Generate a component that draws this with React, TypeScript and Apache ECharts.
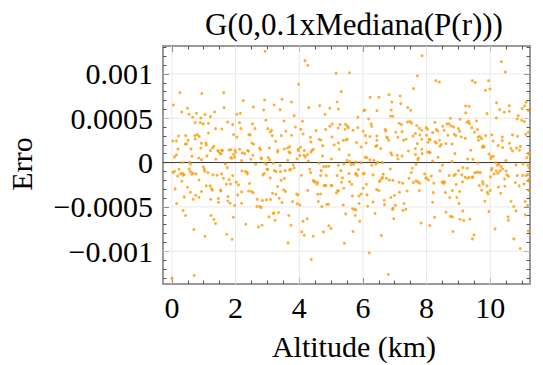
import React, { useEffect, useRef } from "react";
import * as echarts from "echarts";

// Altitude (km), Erro in units of 1e-4
const band0to2: number[][] = [
  [0.25,7.89],[0.94,7.78],[1.63,7.89],[0.05,6.5],[2.24,6.99],[0.49,6.12],[0.31,5.71],[1.64,6.2],[1.34,5.71],[0.54,5.45],
  [0.77,5.56],[1.04,5.41],[0.65,5.11],[0.91,5.03],[1.21,5.18],[2.04,5.45],[2.15,5.56],[0.73,4.51],[0.89,4.51],[0.98,4.36],
  [1.15,4.43],[1.75,4.58],[1.91,4.28],[2.12,4.51],[2.17,3.83],[1.57,3.79],[1.37,3.83],[1.15,3.34],[0.21,3.0],[0.43,3.04],
  [0.72,3.04],[0.8,3.15],[0.86,2.93],[1.94,3.15],[2.04,2.89],[2.42,3.15],[0.03,2.44],[0.14,2.44],[0.51,2.51],[0.73,2.66],
  [1.07,2.21],[1.08,1.99],[0.93,2.18],[0.42,2.1],[0.46,2.1],[1.32,1.84],[1.28,1.65],[0.19,1.54],[0.6,1.54],[1.44,1.35],
  [1.46,1.24],[1.56,1.39],[1.59,1.35],[1.79,1.42],[1.85,1.46],[1.98,1.39],[2.13,1.5],[2.38,1.35],[2.41,1.27],[0.91,1.65],
  [1.21,1.35],[2.0,1.16],[2.21,1.09],[2.29,1.01],[0.14,0.86],[0.08,0.64],[0.63,0.71],[1.1,0.75],[1.51,1.05],[1.54,0.97],
  [1.94,0.9],[1.97,0.6],[1.85,0.56],[0.84,0.52],
  [0.33,0.0],[0.55,0.03],[0.58,-0.15],[0.93,0.33],[1.38,0.37],[1.68,-0.15],[1.74,-0.57],[1.88,0.48],[2.19,0.22],
  [0.03,-1.13],[0.08,-0.98],[0.22,-0.76],[0.18,-1.51],[0.27,-1.28],[0.33,-1.21],[0.36,-1.43],[0.38,-1.36],[0.31,-2.11],[0.54,-0.72],
  [0.62,-1.32],[0.67,-1.21],[0.76,-1.28],[0.58,-1.02],[0.99,-0.49],[1.02,-0.76],[1.03,-0.98],[1.13,-1.13],[1.29,-1.39],[1.42,-1.43],
  [1.56,-1.28],[1.62,-1.77],[1.71,-2.45],[1.8,-1.92],[1.84,-2.41],[1.91,-1.47],[2.02,-2.22],[2.09,-2.52],[2.2,-0.94],[2.31,-1.02],
  [2.37,-1.28],[2.36,-1.09],[0.85,-1.96],[0.49,-2.78],[0.1,-2.97],[0.58,-3.35],[1.08,-2.63],[1.2,-2.63],[1.25,-2.97],[1.27,-3.12],
  [0.93,-3.27],[1.53,-3.09],[1.54,-3.2],[0.75,-3.69],[0.39,-3.87],[0.67,-4.14],[0.85,-3.91],[1.22,-4.14],[1.46,-4.06],[1.46,-4.48],
  [1.76,-3.84],[1.76,-4.33],[1.83,-4.59],[2.07,-3.65],[1.97,-4.85],[2.19,-3.31],[2.41,-3.2],[2.19,-4.59],[0.15,-4.63],[0.35,-5.41],
  [0.43,-5.98],[1.23,-5.98],[1.32,-6.43],[1.37,-6.88],[1.93,-6.17],[2.32,-6.96],[0.69,-7.56],[1.04,-8.31],[1.72,-8.08],[1.89,-8.65],
  [0.0,-13.04],[0.7,-12.74]
];

const band2to5: number[][] = [
  [2.93,12.55],[4.18,11.5],[4.27,10.97],[5.16,10.07],[3.98,8.83],[2.91,7.06],[3.21,6.5],[3.46,7.14],[3.76,6.84],[2.56,6.27],
  [2.88,5.93],[3.4,5.97],[4.3,6.2],[4.64,6.42],[4.81,5.45],[4.96,6.12],[5.19,6.84],[5.23,6.05],[3.84,5.29],[2.95,4.77],
  [3.52,4.69],[4.1,4.66],[2.53,4.36],[2.61,3.83],[3.01,3.83],[3.13,3.64],[3.09,3.45],[3.58,3.53],[3.88,4.02],[4.05,3.75],
  [4.53,3.6],[4.83,3.72],[4.96,4.1],[5.04,4.36],[5.22,3.9],[2.46,3.12],[3.15,3.04],[3.44,3.04],[3.76,3.08],[4.12,3.23],
  [4.35,2.85],[5.03,2.89],[3.26,2.4],[4.37,2.33],[4.62,2.63],[4.68,2.55],[5.1,1.99],[5.23,2.21],[2.51,2.21],[2.57,2.06],
  [2.75,1.65],[2.78,1.46],[3.06,1.65],[3.33,1.35],[3.32,1.2],[3.53,1.54],[3.64,1.65],[3.7,1.8],[3.68,1.2],[3.71,1.09],
  [3.97,1.5],[4.04,1.73],[3.97,1.35],[4.16,1.35],[4.15,0.82],[4.37,1.2],[4.4,1.39],[4.44,1.5],[4.74,1.91],[5.26,1.5],
  [2.54,0.82],[2.81,0.52],[3.03,0.56],[4.02,0.79],[4.19,0.64],[4.26,0.9],[4.73,0.75],
  [2.48,0.37],[2.63,-0.19],[2.81,0.41],[2.92,-0.04],[2.97,-0.19],[3.07,0.3],[3.18,-0.08],[3.4,-0.34],[3.64,0.26],[3.81,-0.27],
  [3.93,0.41],[4.29,0.18],[4.62,-0.04],[4.77,-0.45],[4.85,-0.45],[4.93,-0.42],[5.01,0.41],[5.23,-0.3],
  [2.86,-1.39],[2.9,-1.24],[2.99,-0.76],[3.01,-0.79],[3.09,-1.73],[3.22,-0.91],[3.27,-1.02],[3.41,-1.02],[3.43,-2.0],[3.53,-1.81],
  [3.56,-0.91],[3.7,-0.83],[3.73,-0.76],[3.84,-0.61],[4.07,-1.43],[4.33,-0.76],[4.36,-1.13],[4.44,-2.03],[4.47,-2.15],[4.5,-2.18],
  [4.57,-2.26],[4.56,-2.45],[4.67,-1.47],[4.69,-0.91],[4.78,-2.6],[4.81,-2.6],[4.84,-2.6],[4.85,-1.47],[5.0,-2.6],[5.03,-2.6],
  [5.19,-1.47],[5.23,-3.2],[2.44,-2.37],[2.5,-3.27],[2.55,-3.39],[2.68,-4.14],[2.84,-4.29],[2.97,-4.21],[3.1,-4.17],[3.16,-3.46],
  [3.27,-3.57],[3.32,-2.71],[3.37,-4.02],[3.51,-3.09],[3.57,-3.27],[3.46,-4.51],[3.79,-4.4],[3.92,-3.54],[3.96,-3.65],[3.94,-4.66],
  [4.02,-4.78],[4.27,-3.16],[4.58,-3.57],[4.6,-4.4],[4.67,-3.54],[4.71,-4.96],[4.87,-4.7],[4.92,-4.7],[5.17,-3.42],[5.21,-3.16],
  [2.67,-4.96],[2.76,-4.96],[2.8,-5.08],[3.18,-5.75],[3.21,-5.68],[3.05,-6.13],[3.24,-6.51],[3.35,-5.64],[3.67,-5.98],[3.74,-7.07],
  [4.12,-6.62],[4.25,-6.35],[4.08,-7.82],[4.16,-8.2],[4.44,-8.31],[4.76,-7.82],[4.93,-7.14],[5.0,-7.45],[2.72,-7.26],[2.83,-7.07],
  [3.65,-9.06],[4.38,-10.94]
];

const band5to8: number[][] = [
  [7.86,12.06],[5.58,10.14],[7.71,9.8],[5.32,8.0],[7.59,8.34],[6.82,7.66],[7.17,7.51],[6.23,7.36],[6.5,7.36],[6.91,6.84],
  [7.19,6.65],[7.41,6.2],[7.5,5.9],[6.03,5.86],[6.06,5.93],[6.44,5.86],[6.89,5.93],[5.84,5.11],[6.87,5.22],[6.94,5.22],
  [6.18,4.92],[5.28,4.28],[5.45,4.32],[5.51,4.13],[5.54,3.94],[5.44,3.75],[5.69,3.64],[5.84,3.94],[6.26,4.36],[6.28,4.06],
  [6.01,3.53],[6.7,3.72],[6.72,3.57],[7.03,3.42],[7.23,3.49],[7.14,4.43],[7.21,4.28],[7.4,4.58],[7.48,4.62],[7.53,4.43],
  [7.69,4.17],[7.77,3.87],[7.99,3.94],[8.03,3.75],[7.85,3.64],[5.38,2.52],[5.47,2.55],[5.51,2.63],[5.8,2.25],[6.08,3.04],
  [6.1,2.21],[6.22,2.93],[6.44,3.0],[6.44,2.51],[6.44,1.91],[6.75,2.89],[6.77,2.78],[6.81,2.51],[6.4,1.84],[6.56,1.58],
  [7.1,2.85],[7.28,2.51],[7.36,2.63],[7.57,3.0],[7.65,3.27],[7.79,3.12],[7.85,2.63],[7.71,2.14],[8.0,3.08],[8.08,2.63],
  [8.05,2.29],[5.94,1.76],[5.57,0.86],[6.07,0.6],[6.12,0.56],[6.88,1.09],[6.91,0.86],[7.08,0.82],[7.23,0.75],[7.43,1.31],
  [7.65,1.58],[7.65,0.9],[7.74,0.52],[7.85,1.5],[7.86,1.01],[8.04,1.2],[8.09,1.16],
  [5.4,-0.15],[5.5,0.26],[5.59,0.11],[5.63,-0.23],[5.71,-0.19],[5.78,0.07],[5.94,0.0],[6.22,0.3],[6.28,-0.3],[6.34,0.26],
  [6.41,-0.15],[6.46,0.03],[6.61,0.0],[7.1,0.41],[7.67,-0.19],[7.73,0.33],
  [5.31,-0.91],[5.36,-1.73],[5.33,-2.22],[5.4,-2.9],[5.56,-1.24],[5.58,-2.15],[5.65,-2.45],[5.77,-1.32],[5.79,-1.24],[5.82,-1.47],
  [5.86,-0.79],[6.01,-1.28],[6.04,-1.21],[6.11,-2.45],[6.01,-2.9],[5.95,-3.54],[5.88,-3.76],[5.67,-3.76],[5.88,-4.62],[5.68,-5.23],
  [5.74,-5.26],[5.78,-5.34],[5.46,-5.79],[5.38,-4.78],[5.76,-5.98],[5.9,-6.62],[5.69,-7.78],[5.42,-9.1],[6.13,-3.65],[6.15,-4.93],
  [6.32,-4.44],[6.32,-1.39],[6.38,-5.75],[6.43,-3.05],[6.5,-3.16],[6.52,-2.15],[6.55,-2.0],[6.6,-1.77],[6.62,-1.69],[6.64,-1.32],
  [6.67,-4.25],[6.68,-4.74],[6.74,-1.77],[6.86,-0.72],[6.83,-1.96],[6.88,-3.95],[6.94,-2.0],[6.95,-5.15],[6.93,-5.3],[6.97,-6.35],
  [6.99,-3.72],[7.02,-4.81],[7.14,-2.22],[7.15,-3.35],[7.25,-2.33],[7.29,-4.62],[7.26,-5.41],[7.35,-5.26],[7.39,-3.2],[7.45,-1.77],
  [7.52,-1.13],[7.55,-0.64],[7.58,-2.26],[7.67,-2.07],[7.73,-2.18],[7.77,-3.16],[7.79,-2.33],[7.83,-6.81],[7.94,-1.28],[7.99,-1.73],
  [7.98,-1.77],[8.06,-1.96],[6.58,-8.23],[6.2,-10.19],[6.8,-12.63]
];

const band8to11: number[][] = [
  [10.35,11.38],[10.48,10.22],[8.29,9.24],[8.4,9.09],[9.44,9.24],[9.53,9.02],[9.95,9.24],[9.85,8.15],[9.99,8.3],[10.2,6.76],
  [9.23,6.38],[9.34,6.35],[10.3,5.97],[10.6,6.42],[10.44,5.67],[10.6,5.78],[11.13,6.8],[11.08,6.39],[11.0,6.09],[11.2,5.86],
  [9.9,5.52],[9.23,5.6],[10.88,5.29],[10.85,4.92],[10.99,4.77],[11.07,4.62],[10.19,5.03],[8.26,4.54],[8.75,5.0],[9.05,4.88],
  [8.64,4.36],[8.71,4.36],[9.27,4.54],[9.32,4.66],[9.35,4.39],[9.57,4.69],[8.78,4.13],[8.85,4.02],[8.51,4.1],[8.19,3.38],
  [8.31,3.72],[8.35,3.57],[8.55,3.64],[9.0,3.83],[9.04,3.53],[9.42,3.94],[9.51,3.42],[9.6,3.72],[8.67,3.08],[8.87,3.19],
  [8.92,3.04],[9.09,2.89],[9.22,2.74],[9.62,2.89],[9.68,2.93],[9.73,2.7],[9.63,2.51],[9.86,3.04],[10.05,3.12],[10.09,2.44],
  [10.38,2.89],[10.38,2.48],[10.7,3.12],[10.86,2.97],[11.12,3.19],[11.2,3.42],[8.11,2.59],[8.27,2.33],[8.31,2.21],[8.41,2.51],
  [8.46,2.03],[8.42,1.84],[8.61,2.14],[8.8,2.1],[9.78,1.88],[9.75,1.73],[9.81,1.77],[10.25,1.91],[10.39,1.69],[10.61,2.18],
  [10.65,1.58],[10.7,1.31],[10.83,1.65],[10.95,1.8],[10.92,1.39],[9.39,1.39],[8.89,1.01],[9.96,0.97],[8.11,1.12],[11.2,1.05],
  [11.22,0.94],[11.15,0.56],[10.03,0.67],[10.1,0.71],[8.36,0.6],
  [8.19,0.18],[8.5,-0.3],[8.8,0.11],[9.29,0.41],[9.46,0.37],[9.61,-0.04],[10.02,0.45],[10.17,0.0],[10.23,-0.3],[10.27,-0.19],
  [10.34,-0.45],[10.49,0.22],[10.81,-0.27],[11.03,-0.15],[11.18,-0.3],[11.22,-0.61],
  [8.15,-1.51],[8.23,-2.33],[8.21,-3.39],[8.19,-4.48],[8.25,-6.17],[8.1,-7.11],[8.42,-0.94],[8.49,-2.22],[8.52,-2.15],[8.54,-2.37],
  [8.57,-2.22],[8.59,-3.39],[8.71,-1.47],[8.73,-3.95],[8.81,-3.16],[8.86,-1.47],[8.91,-1.32],[8.93,-2.48],[8.95,-3.95],[9.0,-0.91],
  [9.02,-4.63],[9.04,-3.27],[9.14,-0.57],[9.11,-1.39],[9.13,-2.18],[9.21,-1.66],[9.28,-0.64],[9.29,-1.77],[9.34,-1.69],[9.44,-1.69],
  [9.45,-1.62],[9.51,-1.17],[9.57,-1.09],[9.62,-1.09],[9.66,-2.6],[9.69,-1.13],[9.73,-3.12],[9.76,-2.15],[9.78,-2.41],[9.83,-4.36],
  [9.9,-2.63],[9.91,-3.35],[9.93,-3.54],[10.0,-3.16],[10.01,-1.62],[10.04,-0.83],[10.06,-0.64],[10.12,-1.28],[10.19,-0.94],[10.24,-1.21],
  [10.26,-2.75],[10.31,-0.94],[10.33,-3.46],[10.39,-0.72],[10.45,-1.85],[10.46,-2.67],[10.5,-0.94],[10.53,-1.39],[10.57,-1.54],[10.65,-4.4],
  [10.74,-4.96],[10.79,-2.26],[10.81,-5.45],[10.85,-1.47],[10.91,-2.63],[11.02,-1.47],[11.06,-2.41],[11.1,-4.4],[11.13,-1.47],[11.17,-4.85],
  [11.21,-3.16],[11.2,-2.11],[11.18,-1.36],[11.22,-1.85],[8.61,-5.6],[8.75,-6.05],[8.81,-6.13],[9.05,-6.39],[9.14,-5.45],[9.17,-6.54],
  [9.36,-6.39],[9.96,-5.53],[10.56,-6.13],[10.57,-6.51],[11.1,-5.9],[8.83,-7.78],[9.44,-8.61],[9.49,-8.16],[10.15,-7.48],[10.74,-8.61],
  [10.94,-9.7],[11.2,-7.71]
];

const ERRO_UNIT = 1e-4;
const xMajorTicks = [0, 2, 4, 6, 8, 10];
const xMinorTicks = [0.5, 1, 1.5, 2.5, 3, 3.5, 4.5, 5, 5.5, 6.5, 7, 7.5, 8.5, 9, 9.5, 10.5, 11];
const yMajorTicks = [-0.001, -0.0005, 0, 0.0005, 0.001];
const yMinorTicks = [-0.0013, -0.0012, -0.0011, -0.0009, -0.0008, -0.0007, -0.0006, -0.0004, -0.0003, -0.0002, -0.0001,
  0.0001, 0.0002, 0.0003, 0.0004, 0.0006, 0.0007, 0.0008, 0.0009, 0.0011, 0.0012, 0.0013];

const X_MIN = -0.28, X_MAX = 11.25;
const Y_MIN = -0.00137, Y_MAX = 0.001315;

const FONT = '"Liberation Serif", "Times New Roman", serif';
const FRAME = "#9a9a9a";
const TICK = "#555555";

function fmtY(v: number) {
  if (Math.abs(v) < 1e-12) return "0";
  return (v < 0 ? "\u2212" : "") + String(Math.abs(v));
}

function label(text: string, x: number, y: number, size: number, rotation = 0) {
  return {
    type: "text", x, y, rotation,
    style: {
      text, fontFamily: FONT, fontSize: size, fill: "#000",
      align: "center", verticalAlign: "middle", textAlign: "center", textVerticalAlign: "middle",
    },
  };
}

export default function App() {
  const ref = useRef<HTMLDivElement>(null);
  useEffect(() => {
    if (!ref.current) return;
    const chart = echarts.init(ref.current, null, { renderer: "svg" });
    const pts = [...band0to2, ...band2to5, ...band5to8, ...band8to11].map((p) => [p[0], p[1] * ERRO_UNIT]);

    const xAxisBase = (pos: string, ticks: number[], len: number, showLine: boolean, labels: boolean) => ({
      type: "value",
      position: pos,
      min: X_MIN,
      max: X_MAX,
      axisLine: { show: showLine, onZero: false, lineStyle: { color: FRAME, width: 2 } },
      axisTick: { show: true, inside: true, length: len, customValues: ticks, lineStyle: { color: TICK, width: 1 } },
      axisLabel: labels
        ? { show: true, customValues: ticks, margin: 8, fontFamily: FONT, fontSize: 30, color: "#000" }
        : { show: false },
      splitLine: { show: false },
    });
    const yAxisBase = (pos: string, ticks: number[], len: number, showLine: boolean, labels: boolean) => ({
      type: "value",
      position: pos,
      min: Y_MIN,
      max: Y_MAX,
      axisLine: { show: showLine, onZero: false, lineStyle: { color: FRAME, width: 2 } },
      axisTick: { show: true, inside: true, length: len, customValues: ticks, lineStyle: { color: TICK, width: 1 } },
      axisLabel: labels
        ? { show: true, customValues: ticks, margin: 10, fontFamily: FONT, fontSize: 30, color: "#000", formatter: fmtY }
        : { show: false },
      splitLine: { show: false },
    });

    const gridSeries: any[] = [];
    xMajorTicks.forEach((v) =>
      gridSeries.push({
        type: "line", xAxisIndex: 0, yAxisIndex: 0, silent: true, symbol: "none", z: 1,
        lineStyle: { color: "#e8e8e8", width: 1 }, data: [[v, Y_MIN], [v, Y_MAX]],
      })
    );
    yMajorTicks.filter((v) => v !== 0).forEach((v) =>
      gridSeries.push({
        type: "line", xAxisIndex: 0, yAxisIndex: 0, silent: true, symbol: "none", z: 1,
        lineStyle: { color: "#e8e8e8", width: 1 }, data: [[X_MIN, v], [X_MAX, v]],
      })
    );
    gridSeries.push({
      type: "line", xAxisIndex: 0, yAxisIndex: 0, silent: true, symbol: "none", z: 2,
      lineStyle: { color: "#333333", width: 1 }, data: [[X_MIN, 0], [X_MAX, 0]],
    });

    chart.setOption({
      animation: false,
      backgroundColor: "#ffffff",
      grid: { left: 163, top: 46, right: 13, bottom: 81, containLabel: false },
      xAxis: [
        xAxisBase("bottom", xMajorTicks, 6, true, true),
        xAxisBase("bottom", xMinorTicks, 3.5, false, false),
        xAxisBase("top", xMajorTicks, 6, true, false),
        xAxisBase("top", xMinorTicks, 3.5, false, false),
      ],
      yAxis: [
        yAxisBase("left", yMajorTicks, 6, true, true),
        yAxisBase("left", yMinorTicks, 3.5, false, false),
        yAxisBase("right", yMajorTicks, 6, true, false),
        yAxisBase("right", yMinorTicks, 3.5, false, false),
      ],
      series: [
        ...gridSeries,
        {
          type: "scatter",
          xAxisIndex: 0,
          yAxisIndex: 0,
          z: 5,
          symbol: "circle",
          symbolSize: 3,
          itemStyle: { color: "#ff9a00" },
          data: pts,
        },
      ],
      graphic: [
        label("G(0,0.1xMediana(P(r)))", 354, 24, 31),
        label("Altitude (km)", 354, 346, 30),
        label("Erro", 21, 164, 30, Math.PI / 2),
      ],
    });
    return () => chart.dispose();
  }, []);
  return <div ref={ref} style={{ position: "absolute", left: 0, top: 0, width: 543, height: 365 }} />;
}
